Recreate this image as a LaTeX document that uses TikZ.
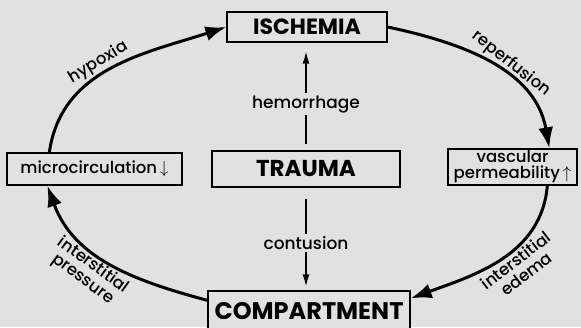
\documentclass[tikz,border=0pt]{standalone}
\usepackage{fontspec}
\setmainfont{Poppins}[UprightFont=* Medium, BoldFont=* Bold]
\usetikzlibrary{arrows.meta,positioning}
\definecolor{paper}{HTML}{E1E1E1}

\begin{document}
\begin{tikzpicture}[x=1pt,y=1pt]
\tikzset{
    box/.style={draw,line width=1.3pt,fill=paper,inner sep=0pt},
    bigbox/.style={box,font=\bfseries\fontsize{22}{24}\selectfont},
    smallbox/.style={box,font=\fontsize{16.5}{16}\selectfont,align=center},
    ring/.style={line width=3pt,-{Latex[length=21pt,width=15pt]}},
    cause/.style={line width=1.3pt,-{Latex[length=12pt,width=7pt]}},
    lbl/.style={font=\fontsize{17}{17}\selectfont,fill=paper,inner sep=2pt},
    curvelbl/.style={font=\fontsize{16.5}{17}\selectfont,align=center,sloped,inner sep=1.5pt}
}
\useasboundingbox[fill=paper] (0,0) rectangle (581,327);
\clip (0,0) rectangle (581,327);
  % boxes
\node[bigbox,minimum width=160,minimum height=30] (isch) at (307,300) {ISCHEMIA};
\node[bigbox,minimum width=188,minimum height=36,font=\bfseries\fontsize{23}{25}\selectfont] (trauma) at (306,158) {TRAUMA};
\node[bigbox,minimum width=202,minimum height=40,font=\bfseries\fontsize{24}{26}\selectfont] (comp) at (309,16) {COMPARTMENT};
\node[smallbox,minimum width=175,minimum height=32] (micro) at (94.5,158) {microcirculation\,$\downarrow$};
\node[smallbox,minimum width=129,minimum height=36] (vasc) at (512.5,160) {vascular\\permeability\,$\uparrow$};
% causes
\draw[cause, shorten <=6pt, shorten >=9pt] (trauma.north) -- node[lbl,pos=0.43] (hem) {hemorrhage} (trauma.north |- isch.south);
\draw[cause, shorten <=11pt, shorten >=4pt] (trauma.south) -- node[lbl,pos=0.54] (cont) {contusion} (trauma.south |- comp.north);
% cycle
\draw[ring] ([xshift=43pt]micro.north west) to[out=82, in=198]
    node[curvelbl,above,pos=0.46] (hyp) {hypoxia} (isch.west);
\draw[ring] (isch.east) to[out=-12, in=100]
    node[curvelbl,above,pos=0.57] (rep) {reperfusion} ([xshift=102pt]vasc.north west);
\draw[ring] ([xshift=100pt]vasc.south west) to[out=-95, in=20]
    node[curvelbl,below,pos=0.44] (edem) {interstitial\\edema} ([yshift=-8pt]comp.north east);
\draw[ring] ([yshift=-10pt]comp.north west) to[out=165, in=-70]
    node[curvelbl,below,pos=0.56] (pres) {interstitial\\pressure} ([xshift=41pt]micro.south west);
\end{tikzpicture}
\end{document}
